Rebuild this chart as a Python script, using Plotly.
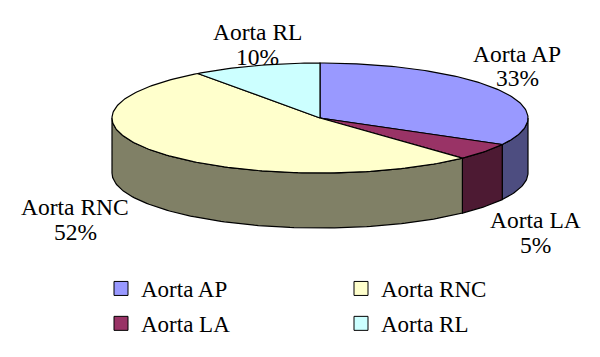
import numpy as np
import plotly.graph_objects as go

# ---- data ----
labels = ["Aorta AP", "Aorta LA", "Aorta RNC", "Aorta RL"]
values = [33, 5, 52, 10]

# ---- style ----
top_colors = ["#9999FF", "#993366", "#FFFFCC", "#CCFFFF"]
side_colors = ["#4D4D80", "#4D1A33", "#808066", "#668080"]
legend_ids = ["legend", "legend", "legend2", "legend2"]
# (x, y of name line, y of percent line) for each outside label
label_pos = [(517, 54, 78), (535, 220, 245), (75, 207, 232), (257, 32, 57)]

CX, CY, RX, RY, DEPTH = 320, 118, 208, 55, 55
OFF = 8  # page body margin compensation
FONT = "Liberation Serif, Times New Roman, serif"


def arc(a, b, dy=0.0, n=80):
    th = np.radians(np.linspace(a, b, max(2, int(n * (b - a) / 90) + 2)))
    return CX + RX * np.sin(th), CY - RY * np.cos(th) + dy


fig = go.Figure()
total = float(sum(values))
bounds = []
acc = 0.0
for v in values:
    a = acc / total * 360
    acc += v
    b = acc / total * 360
    bounds.append((a, b))

# side walls (visible front half only: 90..270 deg, measured clockwise from top)
for (a, b), sc in zip(bounds, side_colors):
    lo, hi = max(a, 90), min(b, 270)
    if lo < hi:
        xt, yt = arc(lo, hi)
        xb, yb = arc(lo, hi, DEPTH)
        xs = np.concatenate([xt, xb[::-1], xt[:1]])
        ys = np.concatenate([yt, yb[::-1], yt[:1]])
        fig.add_trace(go.Scatter(x=xs, y=ys, mode="lines", fill="toself",
                                 fillcolor=sc, line=dict(color="black", width=1.2),
                                 hoverinfo="skip", showlegend=False))

# top faces
for (a, b), tc, lab, v in zip(bounds, top_colors, labels, values):
    xa, ya = arc(a, b)
    xs = np.concatenate([[CX], xa, [CX]])
    ys = np.concatenate([[CY], ya, [CY]])
    fig.add_trace(go.Scatter(x=xs, y=ys, mode="lines", fill="toself",
                             fillcolor=tc, line=dict(color="black", width=1.2),
                             name=lab, hovertemplate=f"{lab}: {v}%<extra></extra>",
                             showlegend=False))

# legend entries
for lab, tc, lg in zip(labels, top_colors, legend_ids):
    fig.add_trace(go.Scatter(x=[None], y=[None], mode="markers", name=lab,
                             marker=dict(symbol="square", size=14, color=tc,
                                         line=dict(color="black", width=1)),
                             legend=lg, legendgroup=lab))

# labels
for lab, v, (px, py1, py2) in zip(labels, values, label_pos):
    for txt, py in ((lab, py1), (f"{v}%", py2)):
        fig.add_annotation(x=px, y=py, text=txt, showarrow=False,
                           xref="x", yref="y", xanchor="center", yanchor="middle",
                           font=dict(family=FONT, size=23.5, color="black"))

leg_common = dict(font=dict(family=FONT, size=23, color="black"),
                  bgcolor="rgba(0,0,0,0)", orientation="v",
                  tracegroupgap=2, xanchor="left", yanchor="top",
                  itemclick=False, itemdoubleclick=False)
fig.update_layout(
    width=600, height=357,
    margin=dict(l=0, r=0, t=0, b=0),
    paper_bgcolor="white", plot_bgcolor="white",
    xaxis=dict(range=[OFF, 600 + OFF], visible=False, fixedrange=True),
    yaxis=dict(range=[357 + OFF, OFF], visible=False, fixedrange=True),
    showlegend=True,
    legend=dict(x=93 / 600, y=1 - 259 / 357, **leg_common),
    legend2=dict(x=333 / 600, y=1 - 259 / 357, **leg_common),
)

fig.write_html("out.html")
